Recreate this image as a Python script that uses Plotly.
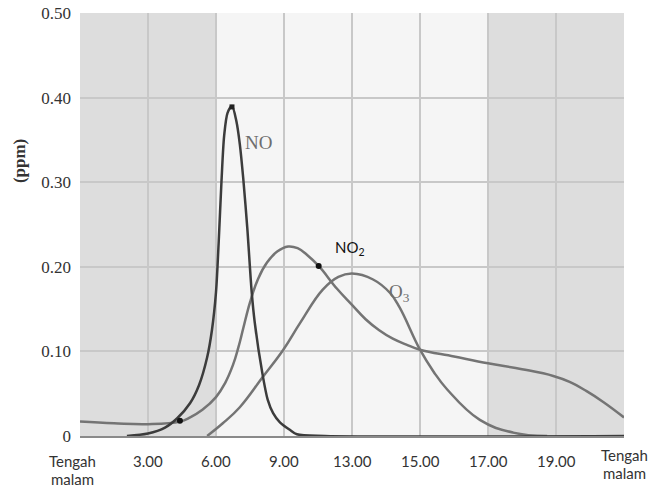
import plotly.graph_objects as go

# x positions are category index: 0 = Tengah malam, 1 = 3.00, ... 8 = Tengah malam
x_labels = ["Tengah<br>malam", "3.00", "6.00", "9.00", "13.00", "15.00", "17.00", "19.00", "Tengah<br>malam"]
y_ticks = [0, 0.1, 0.2, 0.3, 0.4, 0.5]
y_ticktext = ["0", "0.10", "0.20", "0.30", "0.40", "0.50"]

no_x = [0.69, 1.0, 1.25, 1.43, 1.62, 1.75, 1.87, 1.94, 2.0, 2.04, 2.08, 2.12, 2.17, 2.235, 2.30, 2.35, 2.40, 2.46, 2.525, 2.57, 2.68, 2.76, 2.84, 2.94, 3.09, 3.19, 3.6, 8.0]
no_y = [0.0, 0.003, 0.01, 0.021, 0.039, 0.06, 0.093, 0.125, 0.17, 0.23, 0.30, 0.355, 0.382, 0.39, 0.372, 0.345, 0.305, 0.246, 0.170, 0.134, 0.075, 0.043, 0.027, 0.016, 0.007, 0.002, 0.0, 0.0]

no2_x = [0.0, 0.5, 1.0, 1.47, 1.62, 1.8, 2.0, 2.13, 2.25, 2.33, 2.40, 2.5, 2.62, 2.75, 2.9, 3.06, 3.2, 3.34, 3.51, 3.78, 4.0, 4.2, 4.4, 4.6, 4.8, 5.0, 5.5, 6.0, 6.5, 6.96, 7.2, 7.45, 7.7, 8.0]
no2_y = [0.017, 0.015, 0.014, 0.017, 0.022, 0.031, 0.046, 0.062, 0.084, 0.105, 0.127, 0.158, 0.186, 0.205, 0.218, 0.224, 0.222, 0.214, 0.201, 0.174, 0.155, 0.138, 0.125, 0.115, 0.108, 0.102, 0.094, 0.086, 0.079, 0.071, 0.064, 0.053, 0.040, 0.022]

o3_x = [1.87, 2.1, 2.35, 2.69, 2.99, 3.24, 3.57, 3.8, 4.0, 4.31, 4.56, 4.7, 5.0, 5.2, 5.4, 5.88, 6.37, 6.87]
o3_y = [0.0, 0.015, 0.034, 0.070, 0.102, 0.134, 0.173, 0.188, 0.192, 0.185, 0.169, 0.152, 0.102, 0.076, 0.055, 0.019, 0.004, 0.0]

no_peak_x = [2.235]
no_peak_y = [0.389]
no2_dot_x = [1.47, 3.51]
no2_dot_y = [0.018, 0.201]

dark_bands = [(0, 2), (6, 8)]
light_band = (2, 6)

fig = go.Figure()

fig.add_trace(go.Scatter(x=o3_x, y=o3_y, mode="lines",
                         line=dict(color="#747474", width=2.5, shape="spline", smoothing=1.2),
                         hoverinfo="skip", showlegend=False))
fig.add_trace(go.Scatter(x=no2_x, y=no2_y, mode="lines",
                         line=dict(color="#747474", width=2.5, shape="spline", smoothing=1.2),
                         hoverinfo="skip", showlegend=False))
fig.add_trace(go.Scatter(x=no_x, y=no_y, mode="lines",
                         line=dict(color="#3c3c3c", width=2.5, shape="spline", smoothing=0.8),
                         hoverinfo="skip", showlegend=False))
fig.add_trace(go.Scatter(x=no_peak_x, y=no_peak_y, mode="markers",
                         marker=dict(symbol="square", size=5, color="#222"),
                         hoverinfo="skip", showlegend=False))
fig.add_trace(go.Scatter(x=no2_dot_x, y=no2_dot_y, mode="markers",
                         marker=dict(symbol="circle", size=6, color="#111"),
                         hoverinfo="skip", showlegend=False))

shapes = []
for a, b in dark_bands:
    shapes.append(dict(type="rect", xref="x", yref="paper", x0=a, x1=b, y0=0, y1=1,
                       fillcolor="#dddddd", line=dict(width=0), layer="below"))
shapes.append(dict(type="rect", xref="x", yref="paper", x0=light_band[0], x1=light_band[1], y0=0, y1=1,
                   fillcolor="#f5f5f5", line=dict(width=0), layer="below"))

annotations = []
xfont = dict(family="Lato, Liberation Sans, sans-serif", size=15, color="#333")
for i, lab in enumerate(x_labels):
    lines = lab.split("<br>")
    base = -25
    xshift = 0
    if i == 0:
        xshift = -8
    if i == 8:
        base = -19
    for k, ln in enumerate(lines):
        annotations.append(dict(x=i, y=0, xref="x", yref="paper", text=ln, showarrow=False,
                                yanchor="middle", yshift=base - 18 * k, xshift=xshift, font=xfont))

annotations.append(dict(x=-0.112, y=0.65, xref="paper", yref="paper", xanchor="center", yanchor="middle",
                        text="<b>(ppm)</b>", textangle=-90, showarrow=False,
                        font=dict(family="Liberation Serif, serif", size=17, color="#333")))
annotations.append(dict(x=2.40, y=0.347, xref="x", yref="y", text="NO", showarrow=False,
                        xanchor="left", yanchor="middle",
                        font=dict(family="Liberation Serif, serif", size=19, color="#6e6e6e")))
annotations.append(dict(x=3.72, y=0.222, xref="x", yref="y", text="NO<sub>2</sub>", showarrow=False,
                        xanchor="left", yanchor="middle",
                        font=dict(family="Lato, Liberation Sans, sans-serif", size=15, color="#111")))
annotations.append(dict(x=4.52, y=0.169, xref="x", yref="y", text="O<sub>3</sub>", showarrow=False,
                        xanchor="left", yanchor="middle",
                        font=dict(family="Liberation Serif, serif", size=19, color="#6e6e6e")))

fig.update_layout(
    width=665, height=488,
    margin=dict(l=80, r=41, t=13, b=52),
    paper_bgcolor="white", plot_bgcolor="white",
    shapes=shapes, annotations=annotations,
    xaxis=dict(range=[0, 8], tickvals=list(range(9)), showticklabels=False,
               showgrid=True, gridcolor="#c8c8c8", gridwidth=1.5, zeroline=False,
               showline=True, linecolor="#8a8a8a", linewidth=2, ticks="", automargin=False),
    yaxis=dict(range=[0, 0.5], tickvals=y_ticks, ticktext=y_ticktext,
               showgrid=True, gridcolor="#c8c8c8", gridwidth=1.5, zeroline=False,
               ticks="", ticklabelstandoff=8, automargin=False,
               tickfont=dict(family="Liberation Serif, serif", size=17, color="#333")),
)

fig.write_html("out.html", config={"displayModeBar": False},
               post_script="document.body.style.margin='0';document.body.style.overflow='hidden';")
